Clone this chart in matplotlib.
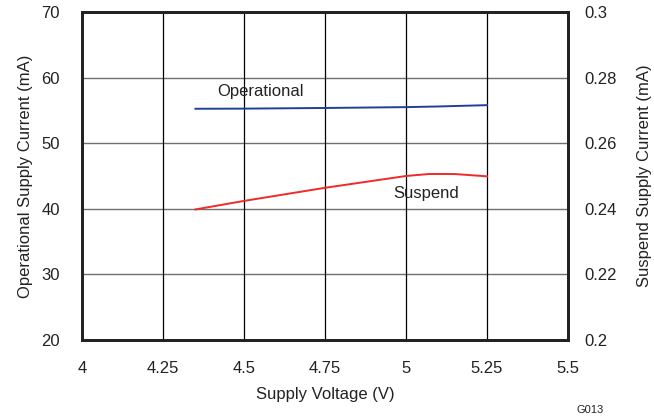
import matplotlib.pyplot as plt
import numpy as np

plt.rcParams['font.family'] = ['Liberation Sans', 'DejaVu Sans']

# operational current (left axis, mA)
v_op = [4.35, 4.5, 4.75, 5.0, 5.1, 5.25]
i_op = [55.25, 55.27, 55.37, 55.5, 55.6, 55.8]

# suspend current (right axis, mA)
v_sus = [4.35, 4.5, 4.75, 5.0, 5.07, 5.15, 5.25]
i_sus = [0.2398, 0.2424, 0.2464, 0.2500, 0.2506, 0.2506, 0.2499]

xticks = [4, 4.25, 4.5, 4.75, 5, 5.25, 5.5]
xlabels = ['4', '4.25', '4.5', '4.75', '5', '5.25', '5.5']

fig = plt.figure(figsize=(6.54, 4.19), dpi=100)
ax = fig.add_axes([82/654, 1 - 340/419, 486/654, 328/419])
ax2 = ax.twinx()

ax.set_xlim(4, 5.5)
ax.set_ylim(20, 70)
ax2.set_ylim(0.2, 0.3)

ax.set_xticks(xticks)
ax.set_xticklabels(xlabels)
ax.set_yticks([20, 30, 40, 50, 60, 70])
ax2.set_yticks([0.2, 0.22, 0.24, 0.26, 0.28, 0.3])
ax2.set_yticklabels(['0.2', '0.22', '0.24', '0.26', '0.28', '0.3'])

for y in [30, 40, 50, 60]:
    ax.axhline(y, color='#707070', lw=1.0, zorder=1)
for x in xticks[1:-1]:
    ax.axvline(x, color='black', lw=0.9, zorder=1)

ax.plot(v_op, i_op, color='#1f3f99', lw=1.4, zorder=3)
ax2.plot(v_sus, i_sus, color='#ee2a2a', lw=1.4, zorder=3)

ax.text(4.417, 57.9, 'Operational', fontsize=12, color='#222222', va='center')
ax2.text(4.96, 0.2448, 'Suspend', fontsize=12, color='#222222', va='center')

for a in (ax, ax2):
    a.tick_params(length=0, labelsize=12, colors='#222222')
    for s in a.spines.values():
        s.set_linewidth(2)
        s.set_color('#222222')
ax.tick_params(axis='y', pad=16)
ax2.tick_params(axis='y', pad=12)
ax.tick_params(axis='x', pad=15)

ax.set_xlabel('Supply Voltage (V)', fontsize=12, color='#222222', labelpad=8)
ax.set_ylabel('Operational Supply Current (mA)', fontsize=12, color='#222222', labelpad=6)
ax2.set_ylabel('Suspend Supply Current (mA)', fontsize=12, color='#222222', labelpad=14)

fig.text(590/654, 1 - 410/419, 'G013', fontsize=8, color='#222222', ha='center', va='center')

fig.savefig('out.png', dpi=100)
